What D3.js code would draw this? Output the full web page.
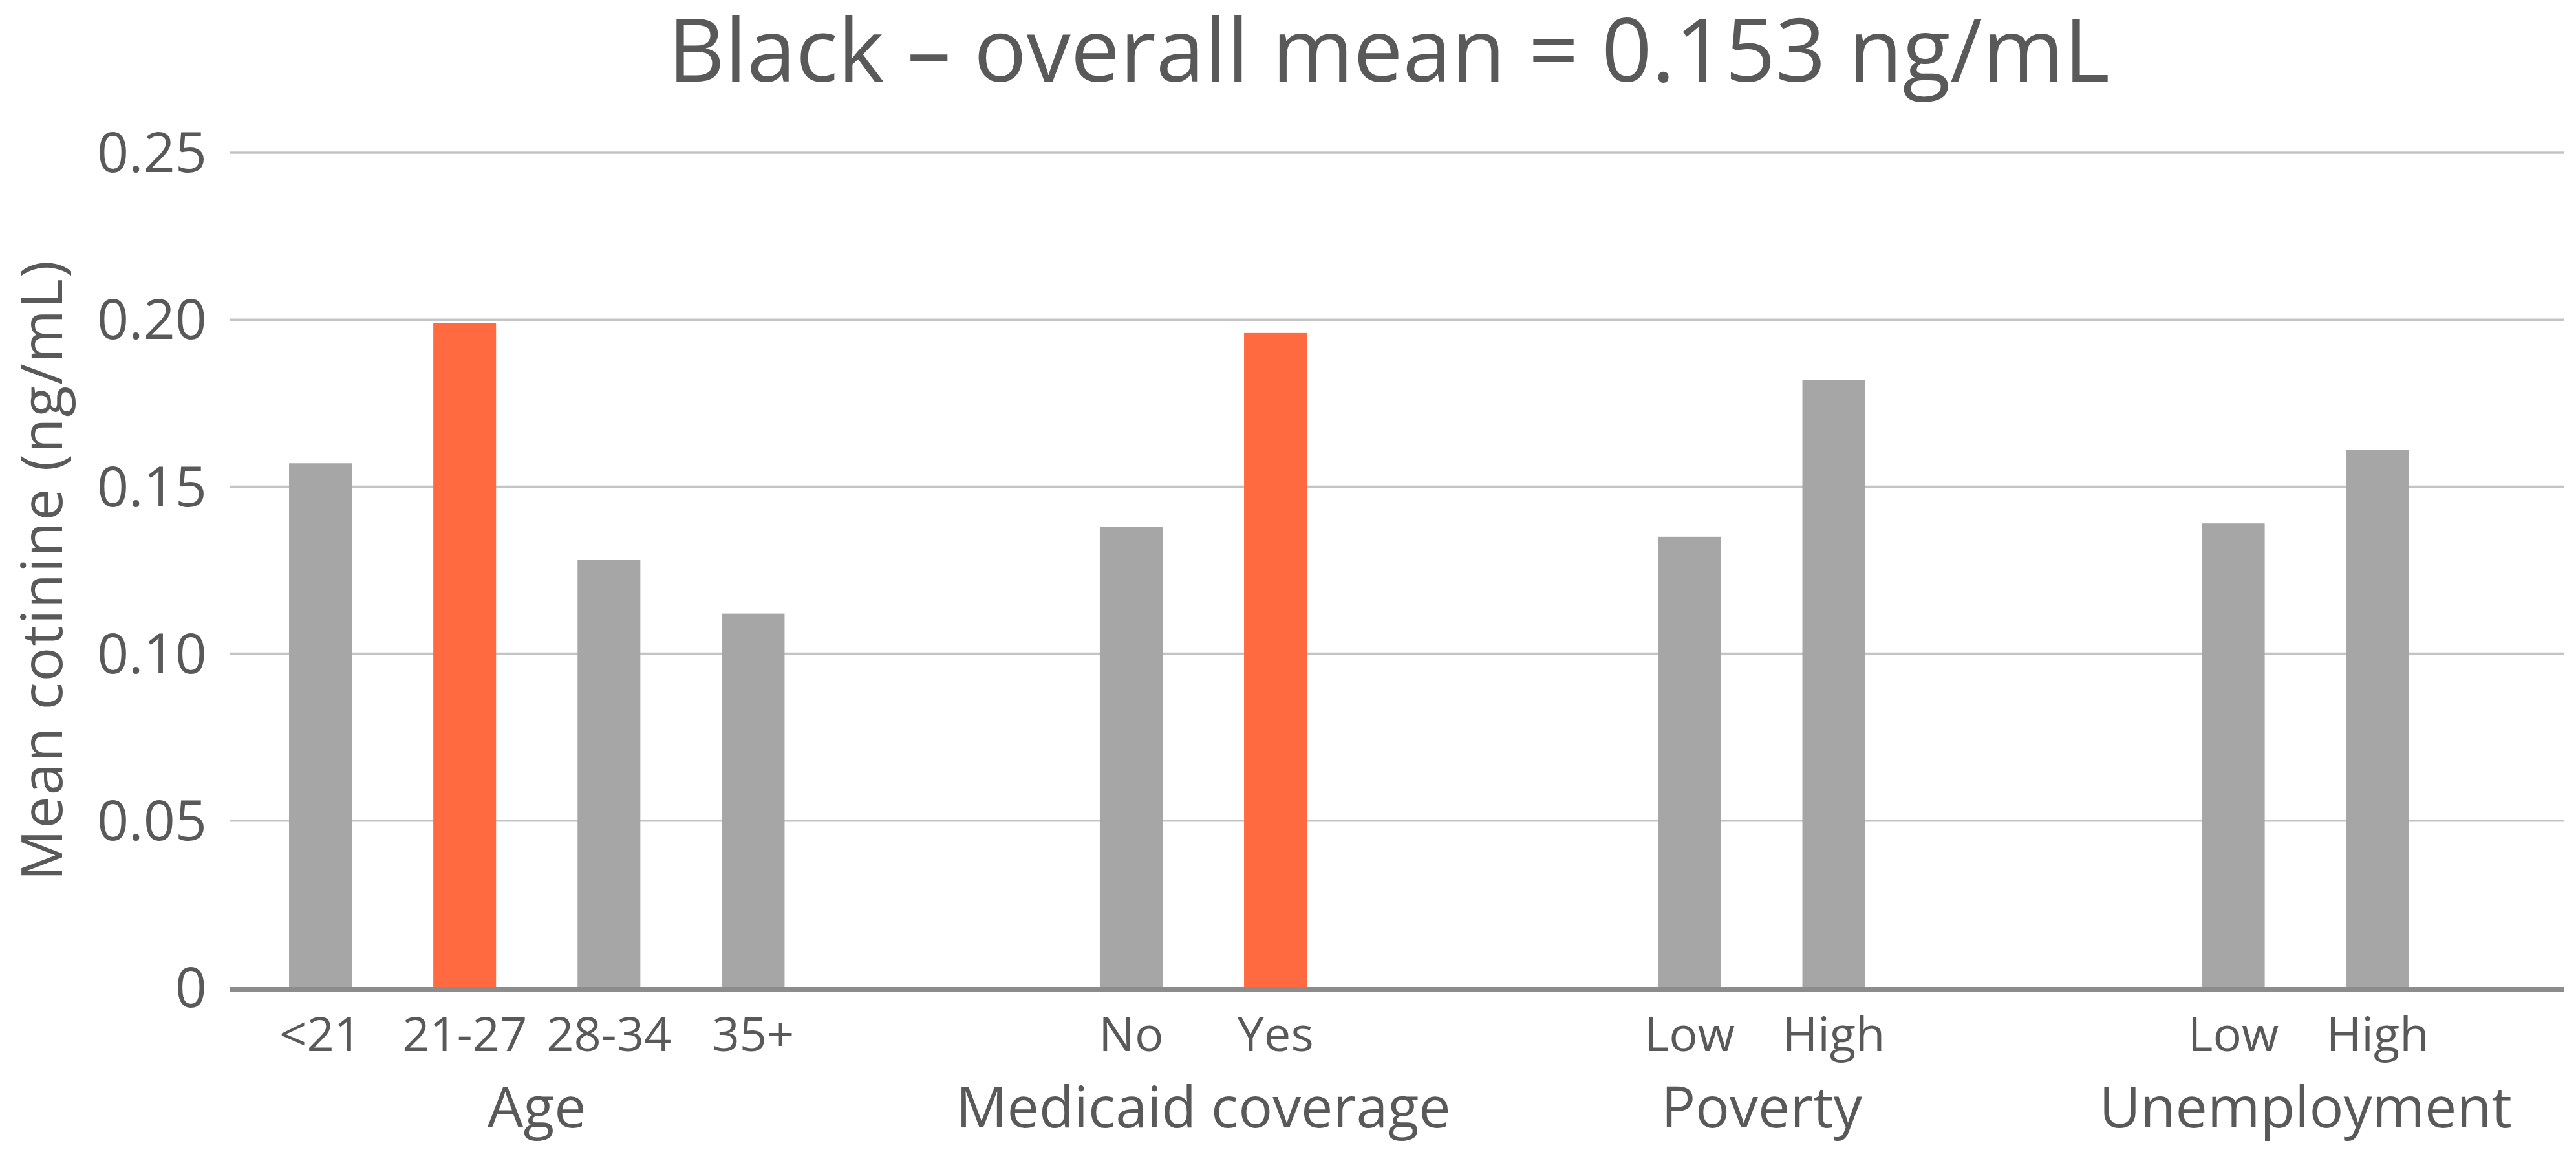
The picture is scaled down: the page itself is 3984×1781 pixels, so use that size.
<html>
<head>
<title>Black - mean cotinine</title>
<script src="https://d3js.org/d3.v7.min.js" charset="utf-8"></script>
<style>
body { margin: 0; background: white; font-family: "Open Sans", sans-serif; }
text { fill: #595959; }
</style>
</head>
<body>
<script>
// chart values
var groups = ["Age", "Medicaid coverage", "Poverty", "Unemployment"];
var categories = [["<21", "21-27", "28-34", "35+"], ["No", "Yes"], ["Low", "High"], ["Low", "High"]];
var values = [[0.157, 0.199, 0.128, 0.112], [0.138, 0.196], [0.135, 0.182], [0.139, 0.161]];
var highlight = [[false, true, false, false], [false, true], [false, false], [false, false]];
var yTicks = [0, 0.05, 0.10, 0.15, 0.20, 0.25];
var title = "Black \u2013 overall mean = 0.153 ng/mL";
var yTitle = "Mean cotinine (ng/mL)";

var width = 3984, height = 1781;
var plotLeft = 355, plotRight = 3965, plotTop = 236, plotBottom = 1527;
var groupGaps = [2.62, 2.87, 2.77, 0];   // slots from a group's last bar to the next group's first bar

// flatten into bars with a slot index
var bars = [];
var groupPos = [];
var slot = 0;
groups.forEach(function(g, gi) {
  var start = slot;
  categories[gi].forEach(function(c, ci) {
    bars.push({ group: g, label: c, value: values[gi][ci], hot: highlight[gi][ci], slot: slot });
    slot += 1;
  });
  groupPos.push({ name: g, mid: (start + slot - 1) / 2 });
  slot += groupGaps[gi] - 1;
});
var lastSlot = bars[bars.length - 1].slot;

var x = d3.scaleLinear().domain([-0.63, lastSlot + 1.29]).range([plotLeft, plotRight]);
var y = d3.scaleLinear().domain([0, 0.25]).range([plotBottom, plotTop]);
var barW = (x(1) - x(0)) * 0.435;

var svg = d3.select("body").append("svg")
  .attr("width", width)
  .attr("height", height);

// gridlines
svg.append("g").selectAll("line")
  .data(yTicks.filter(function(d) { return d > 0; }))
  .enter().append("line")
  .attr("x1", plotLeft).attr("x2", plotRight)
  .attr("y1", function(d) { return y(d); })
  .attr("y2", function(d) { return y(d); })
  .attr("stroke", "#c4c4c4")
  .attr("stroke-width", 3.5);

// y tick labels
svg.append("g").selectAll("text")
  .data(yTicks)
  .enter().append("text")
  .attr("x", 320)
  .attr("y", function(d) { return y(d); })
  .attr("dy", "0.35em")
  .attr("text-anchor", "end")
  .attr("font-size", 86)
  .text(function(d) { return d === 0 ? "0" : d3.format(".2f")(d); });

// bars
svg.append("g").selectAll("rect")
  .data(bars)
  .enter().append("rect")
  .attr("x", function(d) { return x(d.slot) - barW / 2; })
  .attr("width", barW)
  .attr("y", function(d) { return y(d.value); })
  .attr("height", function(d) { return y(0) - y(d.value); })
  .attr("fill", function(d) { return d.hot ? "#ff6a40" : "#a6a6a6"; });

// baseline
svg.append("line")
  .attr("x1", plotLeft).attr("x2", plotRight)
  .attr("y1", y(0) + 3).attr("y2", y(0) + 3)
  .attr("stroke", "#8c8c8c")
  .attr("stroke-width", 8);

// category labels
svg.append("g").selectAll("text")
  .data(bars)
  .enter().append("text")
  .attr("x", function(d) { return x(d.slot); })
  .attr("y", 1625)
  .attr("text-anchor", "middle")
  .attr("font-size", 74)
  .text(function(d) { return d.label; });

// group labels
svg.append("g").selectAll("text")
  .data(groupPos)
  .enter().append("text")
  .attr("x", function(d) { return x(d.mid); })
  .attr("y", 1743)
  .attr("text-anchor", "middle")
  .attr("font-size", 88)
  .text(function(d) { return d.name; });

// title
svg.append("text")
  .attr("x", 2148)
  .attr("y", 126)
  .attr("text-anchor", "middle")
  .attr("font-size", 136)
  .text(title);

// y axis title
svg.append("text")
  .attr("transform", "translate(96," + ((plotTop + plotBottom) / 2) + ") rotate(-90)")
  .attr("text-anchor", "middle")
  .attr("font-size", 88)
  .attr("letter-spacing", 2)
  .text(yTitle);
</script>
</body>
</html>
